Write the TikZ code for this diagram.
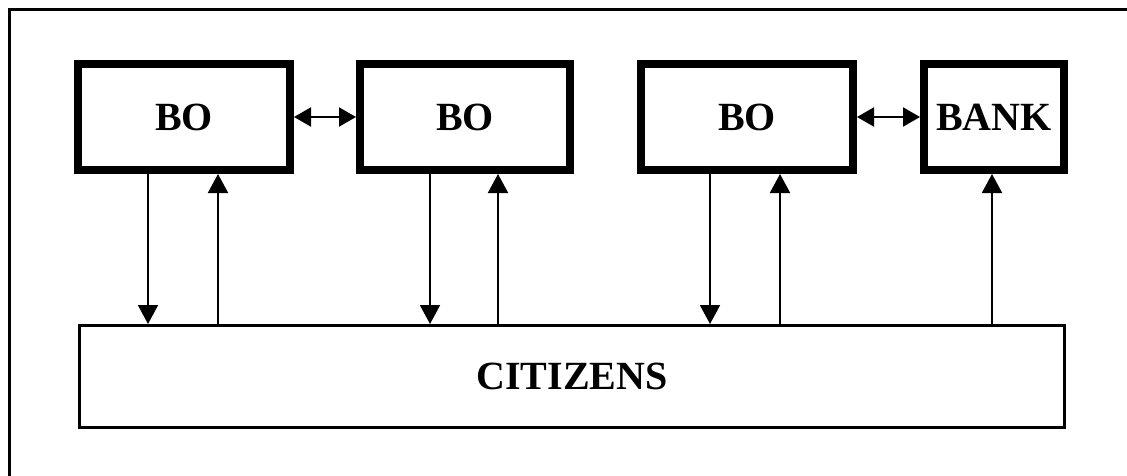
\documentclass[tikz,border=0pt]{standalone}
\usepackage{fontspec}
\setmainfont{Liberation Serif}
\usetikzlibrary{arrows.meta}
\tikzset{
  bobox/.style={draw, line width=8pt, inner sep=0pt, minimum height=106pt, font=\fontsize{40}{44}\selectfont\bfseries},
  citbox/.style={draw, line width=3pt, inner sep=0pt, minimum width=985pt, minimum height=102pt, font=\fontsize{40}{44}\selectfont\bfseries},
  arr/.style={line width=2pt, -{Triangle[length=19pt,width=20pt]}},
  darr/.style={line width=2pt, {Triangle[length=17pt,width=19pt]}-{Triangle[length=17pt,width=19pt]}},
  frame/.style={line width=3pt}
}
\begin{document}
\begin{tikzpicture}[x=1pt,y=-1pt]
\useasboundingbox (0,0) rectangle (1127,476);
\draw[frame] (9,476) -- (9,9.5) -- (1127,9.5);
\node[bobox, minimum width=212pt] (b1) at (184,117) {BO};
\node[bobox, minimum width=210pt] (b2) at (465,117) {BO};
\node[bobox, minimum width=212pt] (b3) at (747,117) {BO};
\node[bobox, minimum width=140pt] (bank) at (994,117) {BANK};
\node[citbox] (cit) at (572,376.5) {CITIZENS};
\coordinate (x1) at (148,0);
\coordinate (x2) at (218,0);
\coordinate (x3) at (430,0);
\coordinate (x4) at (498,0);
\coordinate (x5) at (710,0);
\coordinate (x6) at (780,0);
\coordinate (x7) at (992,0);
\draw[darr] (b1) -- (b2);
\draw[darr] (b3) -- (bank);
\draw[arr] (b1.south -| x1) -- (cit.north -| x1);
\draw[arr] (cit.north -| x2) -- (b1.south -| x2);
\draw[arr] (b2.south -| x3) -- (cit.north -| x3);
\draw[arr] (cit.north -| x4) -- (b2.south -| x4);
\draw[arr] (b3.south -| x5) -- (cit.north -| x5);
\draw[arr] (cit.north -| x6) -- (b3.south -| x6);
\draw[arr] (cit.north -| x7) -- (bank.south -| x7);
\end{tikzpicture}
\end{document}
